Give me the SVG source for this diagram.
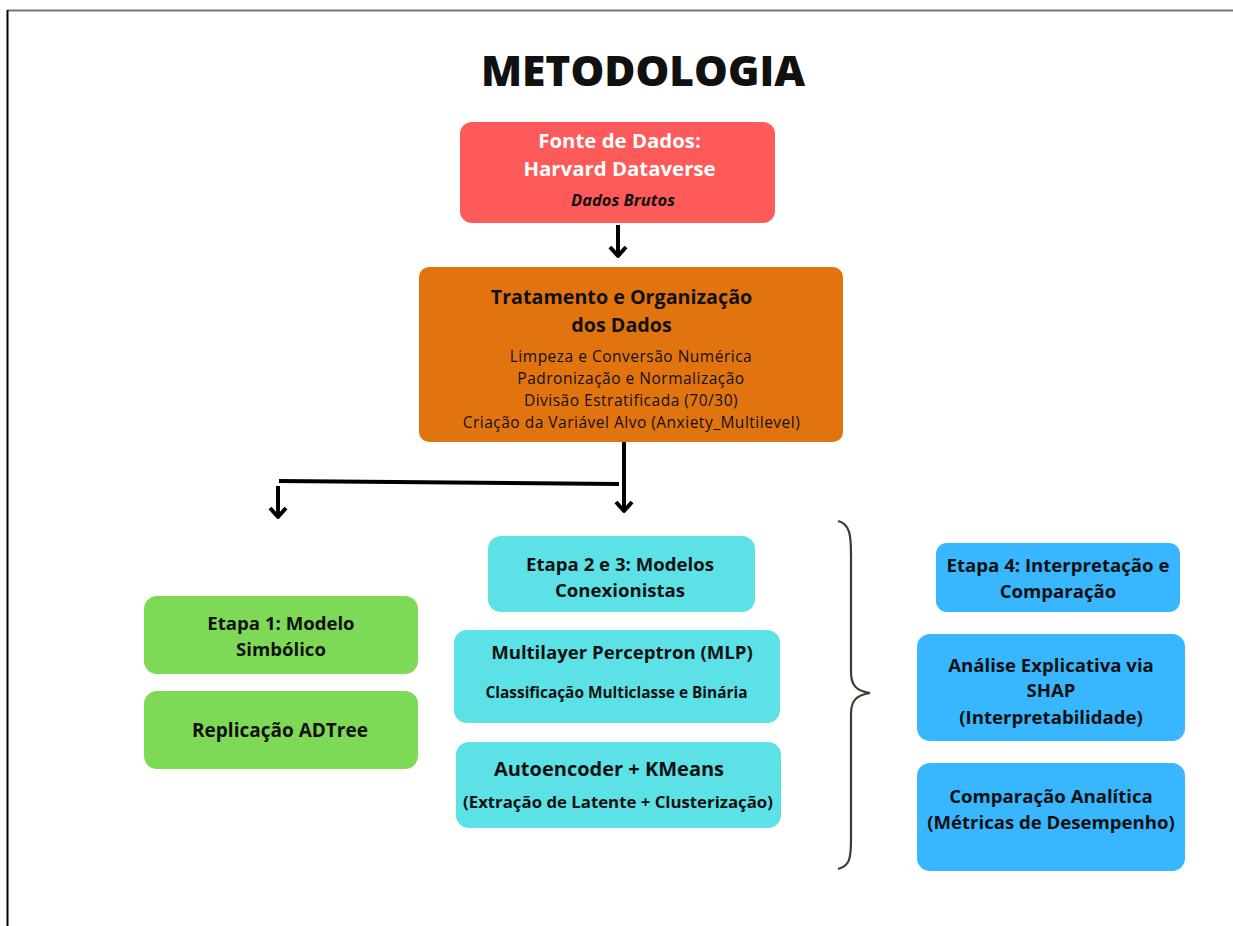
<svg xmlns="http://www.w3.org/2000/svg" width="1233" height="926" viewBox="0 0 1233 926">
<style>
.t{font-family:"Open Sans","Liberation Sans",sans-serif;text-anchor:middle;fill:#111}
.b{font-weight:700}
.w{fill:#fff}
.h{font-size:18.6px;font-weight:700}
.s{font-size:15.5px;letter-spacing:0.5px}
.con{stroke:#000;stroke-width:4;fill:none}
.red{fill:#FF5A5A}.org{fill:#E2740F}.grn{fill:#7ED957}.cyn{fill:#5CE1E6}.blu{fill:#38B6FF}
</style>
<rect width="1233" height="926" fill="#fff"/>
<line x1="7" y1="10.5" x2="1233" y2="10.5" stroke="#777" stroke-width="2"/>
<line x1="7.5" y1="10" x2="7.5" y2="926" stroke="#000" stroke-width="2"/>
<text class="t" x="643" y="86" style="font-size:42.5px;font-weight:800">METODOLOGIA</text>

<g id="connectors">
<path class="con" d="M618,225 V255"/>
<path d="M610,247 L618,256 L626,247" class="con" stroke-width="3.5" stroke-linejoin="round"/>
<path class="con" d="M624,442 V511"/>
<path d="M616,502 L624,511 L632,502" class="con" stroke-width="3.5" stroke-linejoin="round"/>
<path class="con" d="M279,481 L619,484"/>
<path class="con" d="M278,486 V517"/>
<path d="M270,508 L278,517 L286,508" class="con" stroke-width="3.5" stroke-linejoin="round"/>
</g>

<g id="n-fonte">
<rect class="red" x="460" y="122" width="315" height="101" rx="12"/>
<text class="t b w" x="619.5" y="148" font-size="20.4">Fonte de Dados:</text>
<text class="t b w" x="619.5" y="176" font-size="20.4">Harvard Dataverse</text>
<text class="t b" x="623" y="206" font-size="16.5" font-style="italic">Dados Brutos</text>
</g>

<g id="n-tratamento">
<rect class="org" x="419" y="267" width="424" height="175" rx="10"/>
<text class="t b" x="621.5" y="304" font-size="19.7">Tratamento e Organização</text>
<text class="t b" x="621.5" y="332" font-size="19.7">dos Dados</text>
<text class="t s" x="631" y="362">Limpeza e Conversão Numérica</text>
<text class="t s" x="631" y="384">Padronização e Normalização</text>
<text class="t s" x="631" y="406">Divisão Estratificada (70/30)</text>
<text class="t s" x="631.5" y="428">Criação da Variável Alvo (Anxiety_Multilevel)</text>
</g>

<g id="n-etapa1">
<rect class="grn" x="144" y="596" width="274" height="78" rx="13"/>
<text class="t h" x="281" y="630">Etapa 1: Modelo</text>
<text class="t h" x="281" y="656">Simbólico</text>
</g>
<g id="n-adtree">
<rect class="grn" x="144" y="691" width="274" height="78" rx="13"/>
<text class="t h" x="280" y="737" font-size="19" style="font-size:19px">Replicação ADTree</text>
</g>

<g id="n-etapa23">
<rect class="cyn" x="488" y="536" width="267" height="76" rx="13"/>
<text class="t h" x="620" y="571">Etapa 2 e 3: Modelos</text>
<text class="t h" x="620" y="597">Conexionistas</text>
</g>
<g id="n-mlp">
<rect class="cyn" x="454" y="630" width="326" height="93" rx="13"/>
<text class="t h" x="622" y="659">Multilayer Perceptron (MLP)</text>
<text class="t b" x="616.5" y="698" font-size="15.4">Classificação Multiclasse e Binária</text>
</g>
<g id="n-autoencoder">
<rect class="cyn" x="456" y="742" width="325" height="86" rx="13"/>
<text class="t b" x="609" y="776" font-size="20">Autoencoder + KMeans</text>
<text class="t b" x="618" y="808" font-size="16.8">(Extração de Latente + Clusterização)</text>
</g>

<g id="brace">
<path d="M838,521 C850,524 851,535 851,555 L851,672 C851,685 856,691 870,693 C856,695 851,701 851,714 L851,840 C851,860 849,866 838,869" fill="none" stroke="#3A3F2E" stroke-width="2.2"/>
</g>

<g id="n-etapa4">
<rect class="blu" x="936" y="543" width="244" height="69" rx="11"/>
<text class="t h" x="1058" y="572">Etapa 4: Interpretação e</text>
<text class="t h" x="1058" y="598">Comparação</text>
</g>
<g id="n-shap">
<rect class="blu" x="917" y="634" width="268" height="107" rx="13"/>
<text class="t h" x="1051" y="672">Análise Explicativa via</text>
<text class="t h" x="1051" y="697">SHAP</text>
<text class="t h" x="1051" y="724">(Interpretabilidade)</text>
</g>
<g id="n-comparacao">
<rect class="blu" x="917" y="763" width="268" height="108" rx="13"/>
<text class="t h" x="1051" y="803">Comparação Analítica</text>
<text class="t h" x="1051" y="829">(Métricas de Desempenho)</text>
</g>
</svg>
